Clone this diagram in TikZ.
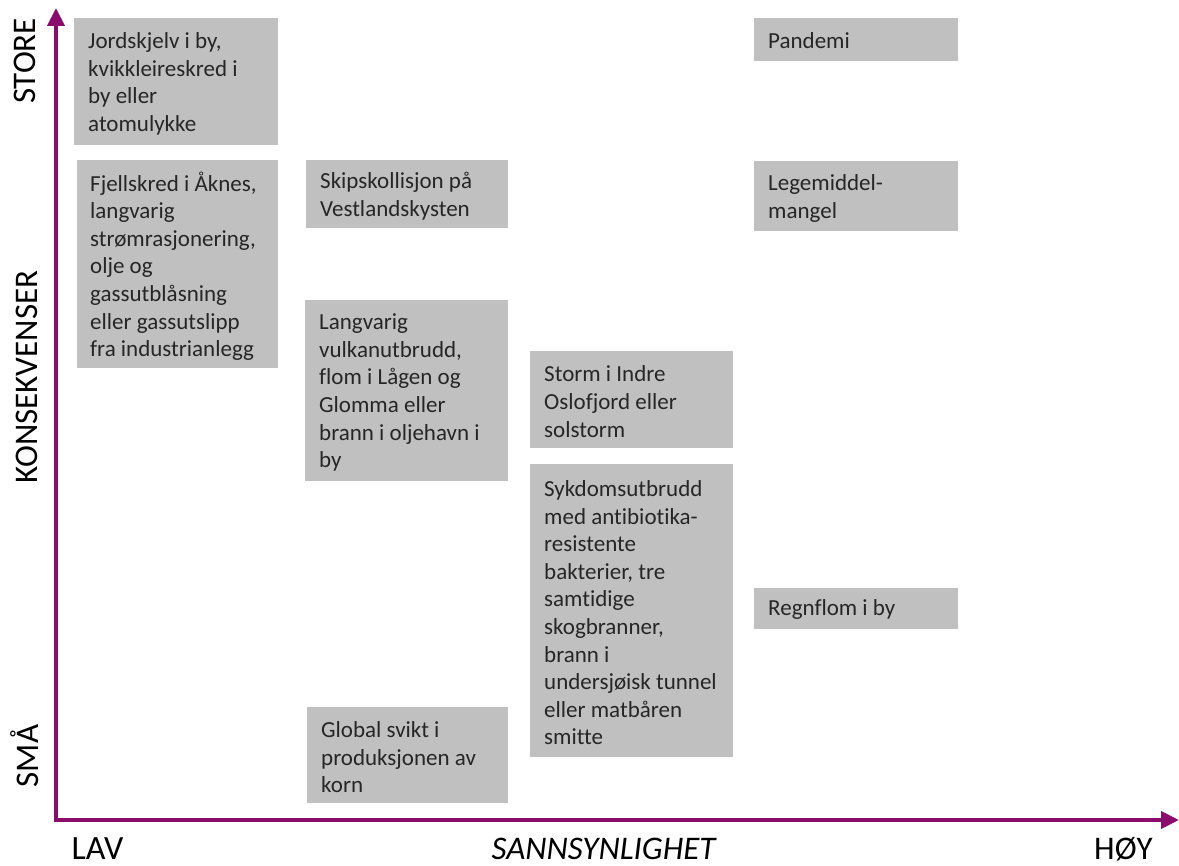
\documentclass[tikz,border=0pt]{standalone}
\usepackage{fontspec}
\setmainfont{Carlito}[Ligatures={NoCommon}]
\usetikzlibrary{arrows.meta}
\definecolor{axispurple}{RGB}{138,12,108}
\definecolor{boxgray}{RGB}{192,192,192}
\tikzset{
  riskbox/.style={fill=boxgray, draw=none, inner sep=0pt, anchor=north west},
  risktext/.style={inner sep=0pt, anchor=west, align=left, text=black!85,
    font=\fontsize{23}{27.6}\selectfont},
  axisline/.style={draw=axispurple, line width=4pt, line join=miter,
    {Triangle[width=17pt,length=18pt]}-{Triangle[width=17pt,length=18pt]}},
  axislabel/.style={inner sep=0pt, text height=21pt, text depth=0pt,
    font=\fontsize{33}{38}\selectfont},
}
\begin{document}
\begin{tikzpicture}[x=1pt,y=-1pt]
\useasboundingbox (0,0) rectangle (1179,866);

% boxes
\node[riskbox, minimum width=204pt, minimum height=127pt] (b1) at (74,18) {};
\node[risktext] (t1) at ([xshift=14pt,yshift=-2pt]b1.west) {Jordskjelv i by,\\kvikkleireskred i\\by eller\\atomulykke};

\node[riskbox, minimum width=201pt, minimum height=208pt] (b2) at (77,160) {};
\node[risktext] (t2) at ([xshift=13pt,yshift=-2pt]b2.west) {Fjellskred i Åknes,\\langvarig\\strømrasjonering,\\olje og\\gassutblåsning\\eller gassutslipp\\fra industrianlegg};

\node[riskbox, minimum width=202pt, minimum height=68pt] (b3) at (306,160) {};
\node[risktext] (t3) at ([xshift=14pt,yshift=-2pt]b3.west) {Skipskollisjon på\\Vestlandskysten};

\node[riskbox, minimum width=203pt, minimum height=181pt] (b4) at (305,300) {};
\node[risktext] (t4) at ([xshift=14pt,yshift=-2pt]b4.west) {Langvarig\\vulkanutbrudd,\\flom i Lågen og\\Glomma eller\\brann i oljehavn i\\by};

\node[riskbox, minimum width=201pt, minimum height=96pt] (b5) at (307,707) {};
\node[risktext] (t5) at ([xshift=14pt,yshift=-2pt]b5.west) {Global svikt i\\produksjonen av\\korn};

\node[riskbox, minimum width=203pt, minimum height=97pt] (b6) at (530,351) {};
\node[risktext] (t6) at ([xshift=14pt,yshift=-2pt]b6.west) {Storm i Indre\\Oslofjord eller\\solstorm};

\node[riskbox, minimum width=203pt, minimum height=293pt] (b7) at (530,464) {};
\node[risktext] (t7) at ([xshift=14pt,yshift=-2pt]b7.west) {Sykdomsutbrudd\\med antibiotika-\\resistente\\bakterier, tre\\samtidige\\skogbranner,\\brann i\\undersjøisk tunnel\\eller matbåren\\smitte};

\node[riskbox, minimum width=204pt, minimum height=43pt] (b8) at (754,18) {};
\node[risktext] (t8) at ([xshift=14pt,yshift=-1pt]b8.west) {Pandemi};

\node[riskbox, minimum width=204pt, minimum height=70pt] (b9) at (754,161) {};
\node[risktext] (t9) at ([xshift=14pt,yshift=-2pt]b9.west) {Legemiddel-\\mangel};

\node[riskbox, minimum width=204pt, minimum height=41pt] (b10) at (754,588) {};
\node[risktext] (t10) at ([xshift=14pt,yshift=-1pt]b10.west) {Regnflom i by};

% axes
\coordinate (ytop) at (56,8);
\coordinate (orig) at (56,820);
\coordinate (xend) at (1179,820);
\draw[axisline] (ytop) -- (orig) -- (xend);

% axis labels
\node[axislabel, rotate=90] (store) at (25,61) {STORE};
\node[axislabel, rotate=90] (kons) at (27,377) {KONSEKVENSER};
\node[axislabel, rotate=90] (sma) at (28,756) {SMÅ};
\node[axislabel, font=\fontsize{34}{39}\selectfont] (lav) at (97.5,849) {LAV};
\node[axislabel, font=\fontsize{33}{38}\selectfont\itshape, text height=19pt] (sann) at (603.5,849.5) {SANNSYNLIGHET};
\node[axislabel] (hoy) at (1123.5,848.5) {HØY};
\end{tikzpicture}
\end{document}
